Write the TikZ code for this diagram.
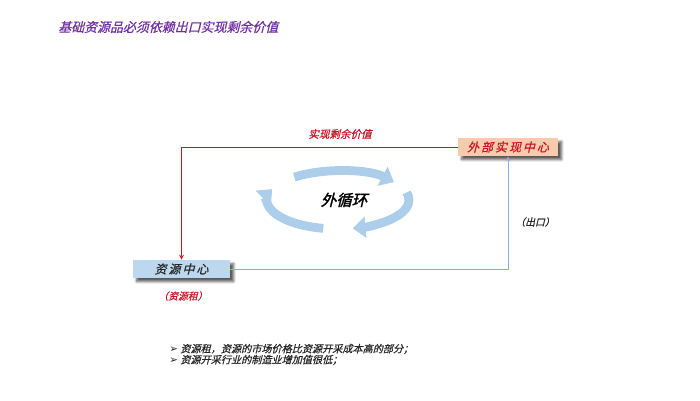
\documentclass[tikz,border=0pt]{standalone}
\usepackage{fontspec}
\newfontfamily\cjk[FakeSlant=0.25,FakeBold=0.6]{Noto Sans CJK SC}
\newfontfamily\cjkbold[FakeSlant=0.25,FakeBold=1.8]{Noto Sans CJK SC}
\newfontfamily\symb{DejaVu Sans}
\usetikzlibrary{arrows.meta,shadows.blur}
\definecolor{titlepurple}{RGB}{112,48,160}
\definecolor{darkred}{RGB}{200,20,40}
\definecolor{peach}{RGB}{248,203,173}
\definecolor{paleblue}{RGB}{189,215,238}
\definecolor{lineblue}{RGB}{143,170,220}
\definecolor{cycleblue}{RGB}{172,206,234}

\begin{document}
\begin{tikzpicture}[x=0.025cm, y=-0.025cm,
    centerbox/.style={rectangle, minimum height=0.45cm, inner sep=0pt, blur shadow={shadow xshift=0.09cm, shadow yshift=-0.09cm, shadow blur steps=6, shadow opacity=65}, font=\cjk\fontsize{8.5}{10}\selectfont},
    plaintext/.style={inner sep=0pt, font=\cjk\fontsize{#1}{#1}\selectfont},
    cyclearrow/.style={draw=cycleblue, line width=0.22cm, -{Triangle[length=0.32cm, width=0.52cm]}}]
      \useasboundingbox (0,0) rectangle (700,401);

      \node (title) [plaintext=9.2, anchor=west, text=titlepurple] at (58,27) {基础资源品必须依赖出口实现剩余价值};

      \node (outer_center) [centerbox, fill=peach, text=darkred, minimum width=2.5cm] at (508,147) {外\,部\,实\,现\,中\,心};
      \node (resource_center) [centerbox, fill=paleblue, text=black!85, minimum width=2.43cm] at (181.5,269) {资\,源\,中\,心};

      \draw [->, >=stealth, darkred, line width=0.6pt] (outer_center.west) -| (resource_center.north);
      \draw [->, >=stealth, lineblue, line width=0.6pt] (resource_center.east) -| (outer_center.south);

      \node (surplus_label) [plaintext=7.5, text=darkred] at (340,134) {实现剩余价值};
      \node (export_label) [plaintext=7, text=black!85] at (535,222) {（出口）};
      \node (rent_label) [plaintext=7, text=darkred] at (183,296) {（资源租）};

      \draw [cyclearrow] (338,200) ++(232:71 and 29) arc [start angle=232, end angle=322, x radius=71, y radius=29];
      \draw [cyclearrow] (338,200) ++(345:71 and 29) arc [start angle=345, end angle=438, x radius=71, y radius=29];
      \draw [cyclearrow] (338,200) ++(102:71 and 29) arc [start angle=102, end angle=202, x radius=71, y radius=29];
      \node (cycle_label) [inner sep=0pt, font=\cjkbold\fontsize{11}{11}\selectfont] at (344,200) {外循环};

      \node (bullet_one) [plaintext=7.2, anchor=west, text=black!85] at (169,349) {{\symb\fontsize{7.5}{7.5}\selectfont ➢}\ 资源租，资源的市场价格比资源开采成本高的部分；};
      \node (bullet_two) [plaintext=7.2, anchor=west, text=black!85] at (169,360) {{\symb\fontsize{7.5}{7.5}\selectfont ➢}\ 资源开采行业的制造业增加值很低；};
    \end{tikzpicture}
\end{document}
